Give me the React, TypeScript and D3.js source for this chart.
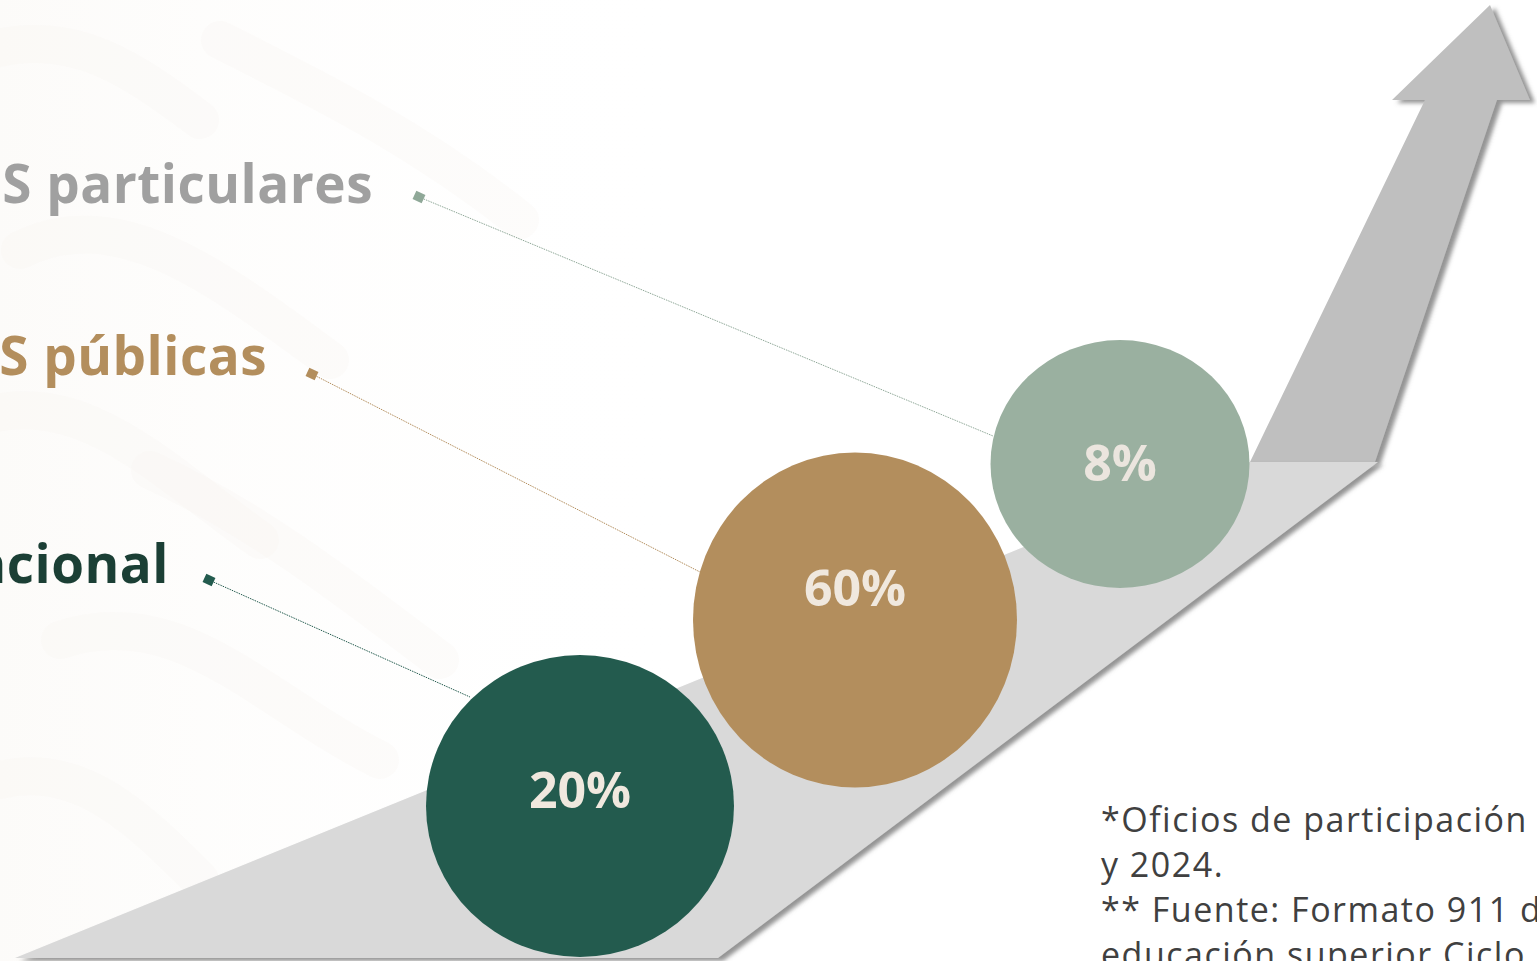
import React from "react";
import * as d3 from "d3";

const categories = ["Promedio nacional", "IES públicas", "IES particulares"];
const values = [20, 60, 8];
const valueLabels = ["20%", "60%", "8%"];
const colors = ["#235b4e", "#b38e5d", "#9ab0a0"];
const labelColors = ["#1b3f35", "#b38e5d", "#a0a0a0"];
const leaderColors = ["#235b4e", "#b38e5d", "#8fa898"];
const footnoteLines = [
  "*Oficios de participación 2023",
  "y 2024.",
  "** Fuente: Formato 911 de",
  "educación superior Ciclo escolar 2023-2024",
];

const W = 1537;
const H = 961;

export default function App() {
  const idx = categories.map((_, i) => i);
  const xScale = d3.scaleLinear().domain([0, 1, 2]).range([580, 855, 1120]);
  const yScale = d3.scaleLinear().domain([0, 1, 2]).range([806, 620, 464]);
  const rxScale = d3.scaleLinear().domain([8, 20, 60]).range([129.5, 154, 162]);
  const ryScale = d3.scaleLinear().domain([8, 20, 60]).range([124, 151, 167.5]);
  const valueDy = d3.scaleLinear().domain([0, 1, 2]).range([2, -14, 17]);
  const labelY = d3.scaleLinear().domain([0, 1, 2]).range([583, 375, 203]);
  const labelX = d3.scaleLinear().domain([0, 1, 2]).range([169, 267, 373]);
  const markerStart = [
    [209, 580],
    [312, 374],
    [419, 197],
  ];
  const markerEnd = [
    [470, 697],
    [700, 572],
    [993, 436],
  ];

  const floor = d3.line()([
    [15, 958],
    [1232, 462],
    [1378, 462],
    [718, 958],
  ]) + "Z";
  const arrow = d3.line()([
    [1250, 462],
    [1425, 100],
    [1392, 100],
    [1490, 5],
    [1530, 100],
    [1497, 100],
    [1375, 462],
  ]) + "Z";

  const bgStrokes = [
    "M -40 60 C 60 20 120 60 200 120",
    "M 20 250 C 120 200 220 280 330 360",
    "M -30 420 C 80 380 160 470 260 540",
    "M 60 640 C 180 600 260 700 380 760",
    "M 220 40 C 320 90 420 140 520 220",
    "M 150 470 C 260 520 360 600 440 660",
    "M 0 780 C 80 760 140 820 200 880",
  ];

  return (
    <svg
      width={W}
      height={H}
      style={{ position: "absolute", left: 0, top: 0, background: "#ffffff" }}
      fontFamily="'Open Sans', sans-serif"
    >
      <defs>
        <filter id="shadow" x="-10%" y="-10%" width="130%" height="130%">
          <feDropShadow dx="5" dy="3" stdDeviation="2" floodColor="#6f6f6f" floodOpacity="0.75" />
        </filter>
        <linearGradient id="bgfade" x1="0" y1="0" x2="1" y2="0">
          <stop offset="0" stopColor="#f8f5f0" stopOpacity="1" />
          <stop offset="1" stopColor="#ffffff" stopOpacity="0" />
        </linearGradient>
      </defs>
      <rect x={0} y={0} width={W} height={H} fill="#ffffff" />
      <rect x={0} y={0} width={700} height={H} fill="url(#bgfade)" opacity={0.4} />
      <g stroke="#f7f4ef" strokeOpacity={0.28} strokeWidth={38} strokeLinecap="round" fill="none">
        {bgStrokes.map((d, i) => (
          <path key={i} d={d} />
        ))}
      </g>

      <path d={arrow} fill="#bfbfbf" filter="url(#shadow)" />
      <path d={floor} fill="#d9d9d9" filter="url(#shadow)" />

      {idx.map((i) => (
        <g key={"lead" + i}>
          <line
            x1={markerStart[i][0]}
            y1={markerStart[i][1]}
            x2={markerEnd[i][0]}
            y2={markerEnd[i][1]}
            stroke={leaderColors[i]}
            strokeWidth={1}
            strokeDasharray="1.5 1"
          />
          <rect
            x={markerStart[i][0] - 5}
            y={markerStart[i][1] - 4.5}
            width={10}
            height={9}
            fill={leaderColors[i]}
            transform={`rotate(25 ${markerStart[i][0]} ${markerStart[i][1]})`}
          />
          <text
            x={labelX(i)}
            y={labelY(i)}
            textAnchor="end"
            fontSize={53}
            fontWeight={700}
            letterSpacing={0.5}
            fill={labelColors[i]}
          >
            {categories[i]}
          </text>
        </g>
      ))}

      {idx.map((i) => (
        <g key={"c" + i}>
          <ellipse
            cx={xScale(i)}
            cy={yScale(i)}
            rx={rxScale(values[i])}
            ry={ryScale(values[i])}
            fill={colors[i]}
          />
          <text
            x={xScale(i)}
            y={yScale(i) + valueDy(i)}
            textAnchor="middle"
            fontSize={50}
            fontWeight={700}
            fill={i === 2 ? "#ebe5de" : "#f0e8de"}
          >
            {valueLabels[i]}
          </text>
        </g>
      ))}

      <g fill="#404040" fontSize={34} letterSpacing={1.5}>
        {footnoteLines.map((t, i) => (
          <text key={i} x={1101} y={832 + i * 45}>
            {t}
          </text>
        ))}
      </g>
    </svg>
  );
}
